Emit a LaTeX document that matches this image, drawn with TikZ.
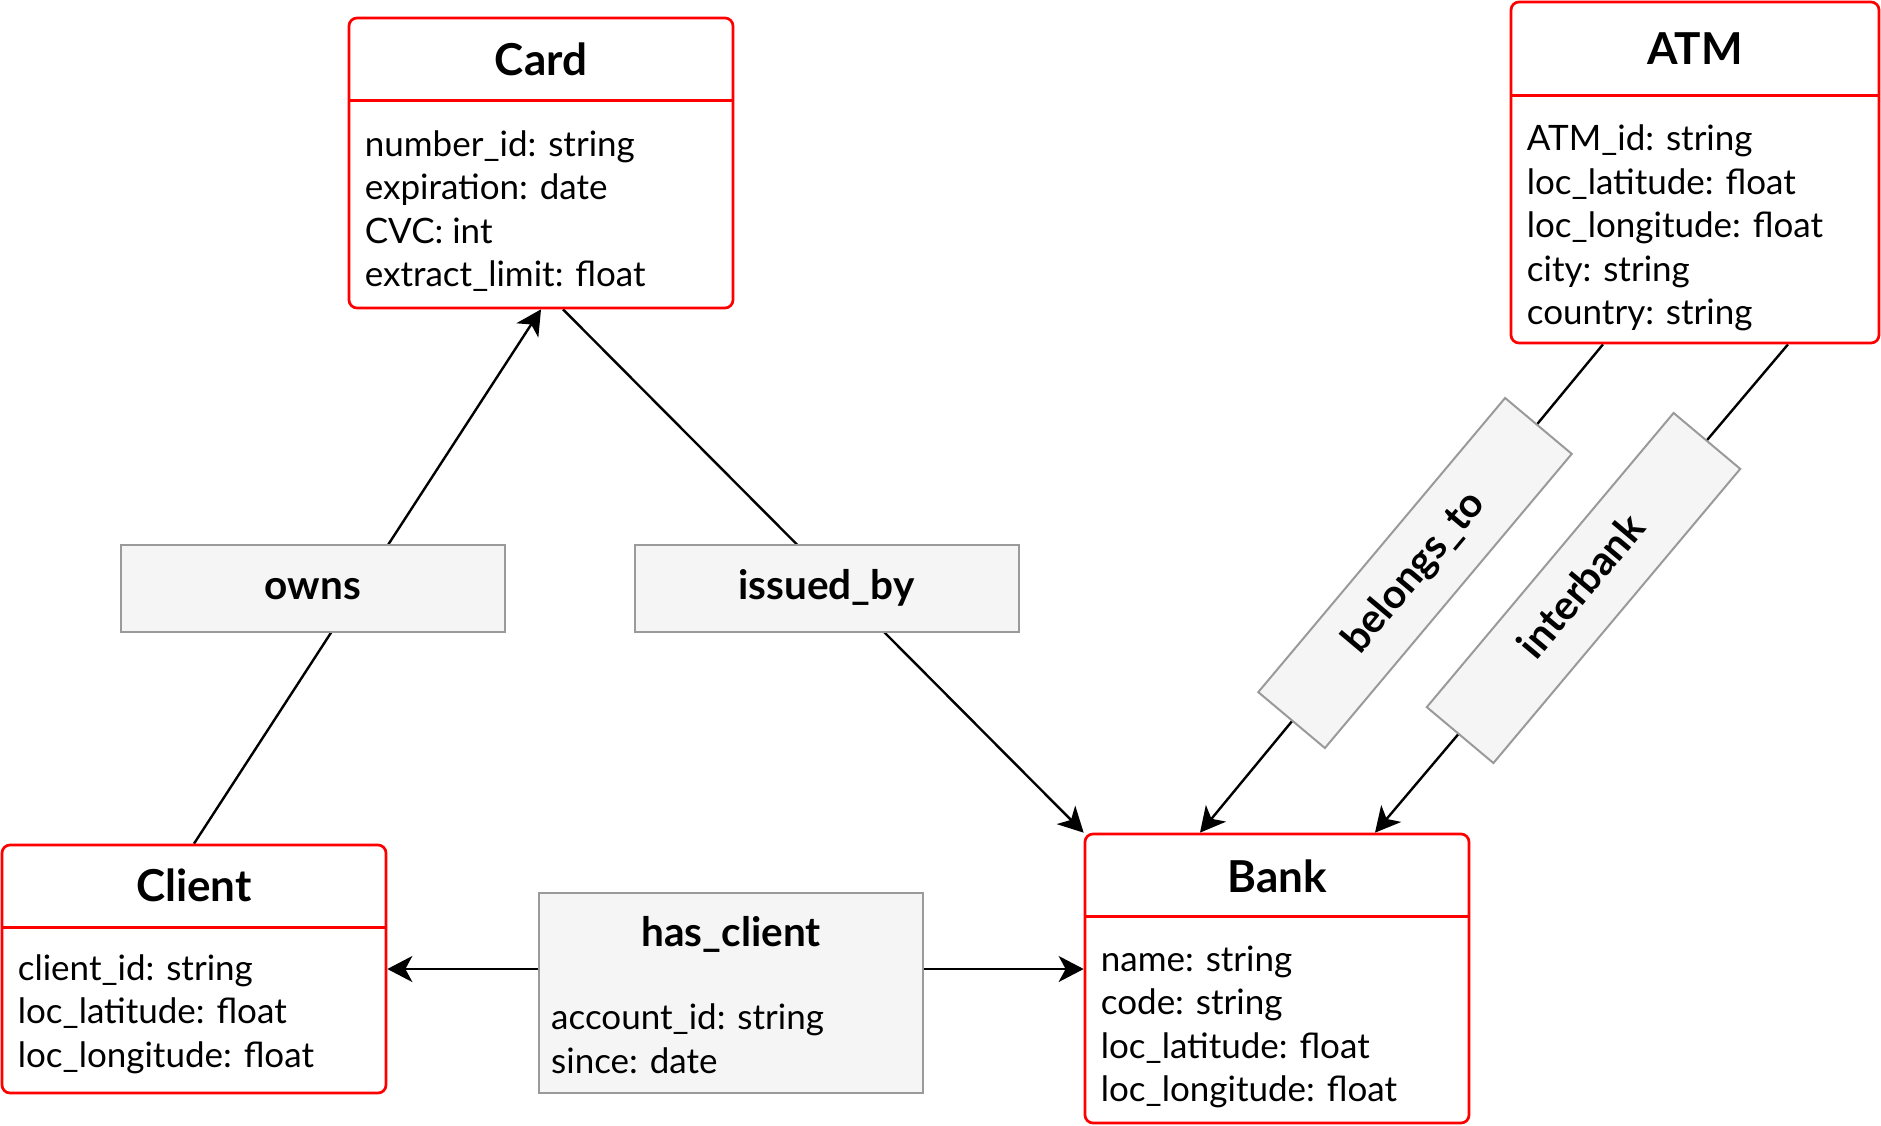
\documentclass[tikz,border=0pt]{standalone}
\usepackage{fontspec}
\setmainfont{Lato}
\usepackage{tikz}
\usetikzlibrary{arrows.meta,backgrounds}
\definecolor{entred}{HTML}{FF0000}
\definecolor{relfill}{HTML}{F5F5F5}
\definecolor{relgray}{HTML}{9A9A9A}
\tikzset{>={Stealth[length=25pt,width=26pt,inset=7pt]}}
\newcommand{\erTitle}{\bfseries\fontsize{44}{53}\selectfont}
\newcommand{\erRel}{\bfseries\fontsize{40.5}{49}\selectfont}
\newcommand{\erAttr}{\fontsize{35}{43.5}\selectfont}

\begin{document}
\begin{tikzpicture}[x=1pt,y=-1pt,
  entity/.style={draw=entred, line width=2.7pt, rounded corners=8pt, fill=white, inner sep=0pt, minimum width=384pt},
  divider/.style={draw=entred, line width=2.7pt},
  relation/.style={draw=relgray, fill=relfill, line width=2pt, inner sep=0pt, minimum width=384pt, minimum height=87pt, font=\erRel, text height=22pt, text depth=0pt},
  title/.style={font=\erTitle, anchor=base, inner sep=0pt},
  attrs/.style={font=\erAttr, align=left, anchor=base west, inner sep=0pt},
  link/.style={line width=2.4pt}]
\useasboundingbox (0,0) rectangle (1881,1125);

% entities (attrs are placed by the baseline of their last line)
\node[entity, minimum height=290pt] (card) at (541,163) {};
\draw[divider] ([yshift=-84pt]card.north west) -- ([yshift=-84pt]card.north east);
\node[title] (card-t) at ([yshift=-58.5pt]card.north) {Card};
\node[attrs] (card-a) at ([shift={(17pt,-270pt)}]card.north west) {number\_id: string\\expiration: date\\CVC: int\\extract\_limit: float};

\node[entity, minimum width=368pt, minimum height=341pt] (atm) at (1695,172.5) {};
\draw[divider] ([yshift=-95pt]atm.north west) -- ([yshift=-95pt]atm.north east);
\node[title] (atm-t) at ([yshift=-63.5pt]atm.north) {ATM};
\node[attrs] (atm-a) at ([shift={(17pt,-324pt)}]atm.north west) {ATM\_id: string\\loc\_latitude: float\\loc\_longitude: float\\city: string\\country: string};

\node[entity, minimum height=248pt] (client) at (194,969) {};
\draw[divider] ([yshift=-84pt]client.north west) -- ([yshift=-84pt]client.north east);
\node[title] (client-t) at ([yshift=-57.5pt]client.north) {Client};
\node[attrs] (client-a) at ([shift={(17pt,-223.5pt)}]client.north west) {client\_id: string\\loc\_latitude: float\\loc\_longitude: float};

\node[entity, minimum height=289pt] (bank) at (1277,978.5) {};
\draw[divider] ([yshift=-84pt]bank.north west) -- ([yshift=-84pt]bank.north east);
\node[title] (bank-t) at ([yshift=-59.5pt]bank.north) {Bank};
\node[attrs] (bank-a) at ([shift={(17pt,-269pt)}]bank.north west) {name: string\\code: string\\loc\_latitude: float\\loc\_longitude: float};

% relationships
\node[relation] (owns) at (313,588.5) {owns};
\node[relation] (issued) at (826.5,588.5) {issued\_by};
\node[relation, rotate=50] (belongs) at (1415,573) {belongs\_to};
\node[relation, rotate=50] (interbank) at (1583.5,588) {interbank};
\node[relation, minimum height=200pt] (hasclient) at (731,993) {};
\node[title, font=\erRel] (hasclient-t) at ([yshift=-54pt]hasclient.north) {has\_client};
\node[attrs] (hasclient-a) at ([shift={(13pt,-181pt)}]hasclient.north west) {account\_id: string\\since: date};

\begin{scope}[on background layer]
\draw[link,->] (client.north) -- (card.south);
\draw[link,->] ([xshift=22pt]card.south) -- (bank.north west);
\draw[link,->] ([xshift=-92pt]atm.south) -- ([xshift=-77pt]bank.north);
\draw[link,->] ([xshift=93pt]atm.south) -- ([xshift=98pt]bank.north);
\draw[link,->] (hasclient.west |- client.east) -- (client.east);
\draw[link,->] (hasclient.east |- client.east) -- (bank.west |- client.east);
\end{scope}
\end{tikzpicture}
\end{document}
